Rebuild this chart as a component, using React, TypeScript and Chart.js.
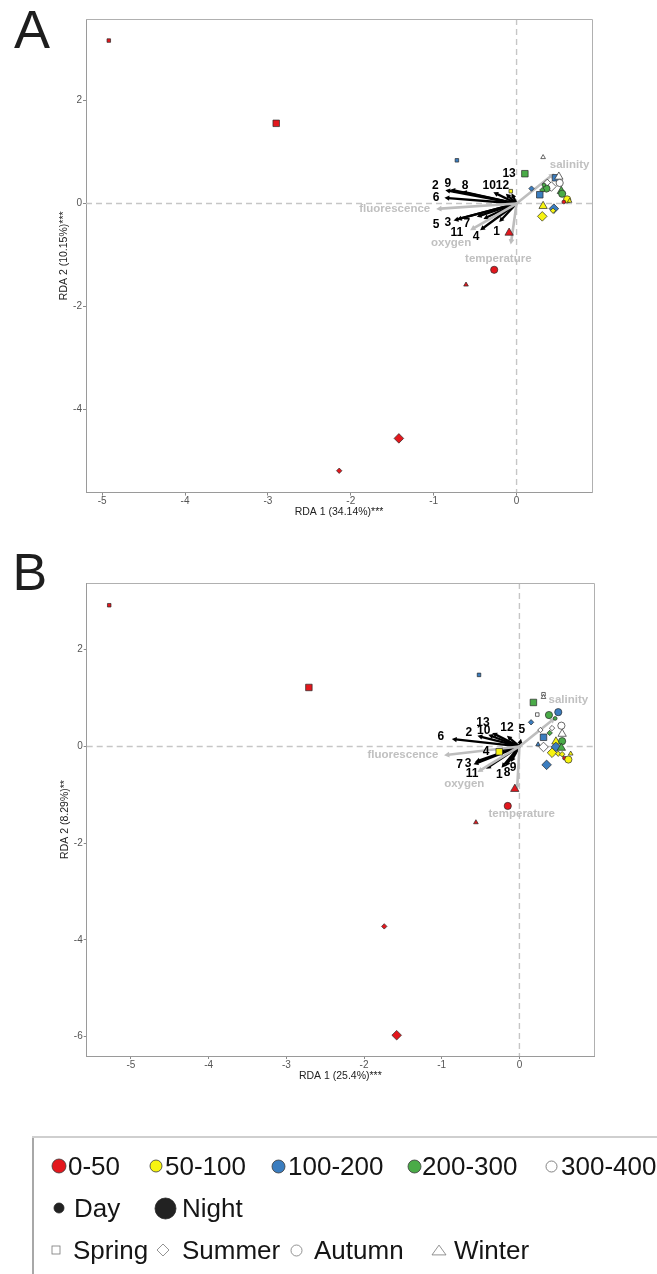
import React, { useEffect, useRef } from "react";
import { Chart, registerables } from "chart.js";

Chart.register(...registerables);

const FONT = "'Liberation Sans', Arial, Helvetica, sans-serif";

// ---------- shared categories ----------
const depthLabels = ["0-50", "50-100", "100-200", "200-300", "300-400"];
const depthColors = ["#e3171d", "#f7f411", "#3b7dbf", "#4aab48", "#ffffff"];
const timeLabels = ["Day", "Night"];
const seasonLabels = ["Spring", "Summer", "Autumn", "Winter"];
const seasonStyles = ["rect", "rectRot", "circle", "triangle"];
const speciesLabels = ["1", "2", "3", "4", "5", "6", "7", "8", "9", "10", "11", "12", "13"];
const envLabels = ["salinity", "fluorescence", "oxygen", "temperature"];
const xTickValues = [-5, -4, -3, -2, -1, 0];
const yTickValuesA = [-4, -2, 0, 2];
const yTickValuesB = [-6, -4, -2, 0, 2];

// ---------- panel A ----------
const aSampleX = [-4.92, -2.9, -0.72, 0.32, 0.1, -0.07, 0.18, 0.47, 0.51, 0.52, 0.37, 0.42, 0.36, 0.33, 0.31, 0.28, 0.54, 0.55, 0.61, 0.64, 0.57, 0.32, 0.31, 0.45, 0.44, -0.09, -0.27, -0.61, -1.42, -2.14];
const aSampleY = [3.17, 1.56, 0.84, 0.9, 0.58, 0.24, 0.29, 0.5, 0.52, 0.4, 0.38, 0.33, 0.29, 0.36, 0.26, 0.17, 0.24, 0.19, 0.08, 0.05, 0.03, -0.05, -0.25, -0.1, -0.14, -0.57, -1.29, -1.58, -4.57, -5.2];
const aSampleDepth = [0, 0, 2, 4, 3, 1, 2, 2, 4, 4, 4, 4, 3, 3, 3, 2, 3, 3, 1, 1, 0, 1, 1, 2, 1, 0, 0, 0, 0, 0];
const aSampleNight = [0, 1, 0, 0, 1, 0, 0, 1, 1, 1, 1, 1, 1, 0, 0, 1, 1, 1, 1, 0, 0, 1, 1, 1, 0, 1, 1, 0, 1, 0];
const aSampleSeason = [0, 0, 0, 3, 0, 0, 1, 0, 3, 2, 1, 1, 2, 2, 1, 0, 3, 2, 2, 3, 2, 3, 1, 1, 1, 3, 2, 3, 1, 1];

const aSpeciesX = [-0.21, -0.86, -0.72, -0.44, -0.76, -0.87, -0.48, -0.66, -0.8, -0.28, -0.4, -0.13, -0.06];
const aSpeciesY = [-0.36, 0.26, -0.31, -0.52, -0.33, 0.11, -0.26, 0.23, 0.27, 0.22, -0.3, 0.19, 0.2];
const aSpeciesLabelX = [-0.24, -0.98, -0.83, -0.49, -0.97, -0.97, -0.6, -0.62, -0.83, -0.33, -0.72, -0.17, -0.09];
const aSpeciesLabelY = [-0.54, 0.34, -0.37, -0.64, -0.42, 0.12, -0.4, 0.35, 0.39, 0.35, -0.57, 0.35, 0.58];

const aEnvX = [0.455, -0.97, -0.56, -0.07];
const aEnvY = [0.585, -0.105, -0.52, -0.8];
const aEnvLabelX = [0.64, -1.47, -0.79, -0.22];
const aEnvLabelY = [0.75, -0.105, -0.77, -1.08];

// ---------- panel B ----------
const bSampleX = [-5.28, -2.71, -0.52, 0.18, 0.31, 0.31, 0.23, 0.38, 0.5, 0.15, 0.46, 0.54, 0.27, 0.42, 0.55, 0.39, 0.31, 0.24, 0.31, 0.47, 0.55, 0.47, 0.54, 0.42, 0.5, 0.55, 0.58, 0.63, 0.66, 0.35, -0.26, -0.06, -0.15, -0.56, -1.74, -1.58];
const bSampleY = [2.92, 1.22, 1.48, 0.91, 1.08, 1.02, 0.66, 0.65, 0.71, 0.5, 0.58, 0.43, 0.34, 0.38, 0.26, 0.28, 0.19, 0.04, -0.01, 0.1, 0.11, -0.01, -0.03, -0.13, -0.15, -0.16, -0.24, -0.27, -0.15, -0.38, -0.11, -0.88, -1.23, -1.57, -3.72, -5.97];
const bSampleDepth = [0, 0, 2, 3, 4, 4, 4, 3, 2, 2, 3, 4, 4, 4, 4, 3, 2, 2, 4, 1, 3, 2, 3, 1, 1, 1, 0, 1, 1, 2, 1, 0, 0, 0, 0, 0];
const bSampleNight = [0, 1, 0, 1, 0, 0, 0, 1, 1, 0, 0, 1, 0, 0, 1, 0, 1, 0, 1, 1, 1, 1, 1, 1, 0, 0, 0, 1, 0, 1, 1, 1, 1, 0, 0, 1];
const bSampleSeason = [0, 0, 0, 0, 0, 3, 0, 2, 2, 1, 2, 2, 1, 1, 3, 1, 0, 3, 1, 3, 2, 1, 3, 1, 1, 1, 2, 2, 3, 1, 0, 3, 2, 3, 1, 1];

const bSpeciesX = [-0.23, -0.54, -0.57, -0.27, 0.02, -0.87, -0.59, -0.18, -0.11, -0.4, -0.43, -0.16, -0.35];
const bSpeciesY = [-0.44, 0.22, -0.32, -0.09, 0.16, 0.155, -0.37, -0.41, -0.32, 0.24, -0.46, 0.22, 0.28];
const bSpeciesLabelX = [-0.26, -0.65, -0.66, -0.43, 0.03, -1.01, -0.77, -0.16, -0.08, -0.46, -0.61, -0.16, -0.47];
const bSpeciesLabelY = [-0.58, 0.28, -0.35, -0.11, 0.34, 0.21, -0.38, -0.55, -0.44, 0.32, -0.57, 0.39, 0.5];

const bEnvX = [0.46, -0.97, -0.54, -0.03];
const bEnvY = [0.59, -0.18, -0.53, -0.89];
const bEnvLabelX = [0.63, -1.5, -0.71, 0.03];
const bEnvLabelY = [0.97, -0.18, -0.77, -1.39];

// ---------- helpers ----------
type Panel = {
  sx: number[]; sy: number[]; depth: number[]; night: number[]; season: number[];
  spX: number[]; spY: number[]; spLX: number[]; spLY: number[];
  envX: number[]; envY: number[]; envLX: number[]; envLY: number[];
  xMin: number; xMax: number; yMin: number; yMax: number; yTicks: number[];
  xTitle: string; yTitle: string;
  lay: { top: number; right: number; left: number; yW: number; xH: number; yTitlePad: number; xTitlePad: number };
};

const radiusByTime = [
  [2.5, 2.7, 1.9, 2.7],
  [4.6, 4.8, 3.6, 4.8],
];

function drawArrow(ctx: CanvasRenderingContext2D, x1: number, y1: number, x2: number, y2: number, color: string, width: number, head: number) {
  const ang = Math.atan2(y2 - y1, x2 - x1);
  const lx = x2 - Math.cos(ang) * head * 0.7;
  const ly = y2 - Math.sin(ang) * head * 0.7;
  ctx.strokeStyle = color;
  ctx.lineWidth = width;
  ctx.lineCap = "butt";
  ctx.beginPath();
  ctx.moveTo(x1, y1);
  ctx.lineTo(lx, ly);
  ctx.stroke();
  ctx.fillStyle = color;
  ctx.beginPath();
  ctx.moveTo(x2, y2);
  ctx.lineTo(x2 - head * Math.cos(ang - 0.5), y2 - head * Math.sin(ang - 0.5));
  ctx.lineTo(x2 - head * Math.cos(ang + 0.5), y2 - head * Math.sin(ang + 0.5));
  ctx.closePath();
  ctx.fill();
}

const biplotPlugin = {
  id: "biplot",
  beforeDatasetsDraw(chart: any) {
    const p: Panel = chart.options.plugins.biplot.panel;
    const { ctx, chartArea: a, scales } = chart;
    const px = (v: number) => scales.x.getPixelForValue(v);
    const py = (v: number) => scales.y.getPixelForValue(v);
    ctx.save();
    ctx.beginPath();
    ctx.rect(a.left, a.top, a.right - a.left, a.bottom - a.top);
    ctx.clip();
    ctx.strokeStyle = "#c6c6c6";
    ctx.lineWidth = 1.4;
    ctx.setLineDash([6, 4]);
    ctx.beginPath();
    ctx.moveTo(px(0), a.top);
    ctx.lineTo(px(0), a.bottom);
    ctx.moveTo(a.left, py(0));
    ctx.lineTo(a.right, py(0));
    ctx.stroke();
    ctx.setLineDash([]);
    const ox = px(0), oy = py(0);
    p.spX.forEach((v, i) => drawArrow(ctx, ox, oy, px(v), py(p.spY[i]), "#000000", 2.3, 5.5));
    p.envX.forEach((v, i) => drawArrow(ctx, ox, oy, px(v), py(p.envY[i]), "#bdbdbd", 2.6, 6));
    ctx.restore();
  },
  afterDatasetsDraw(chart: any) {
    const p: Panel = chart.options.plugins.biplot.panel;
    const { ctx, chartArea: a, scales } = chart;
    const px = (v: number) => scales.x.getPixelForValue(v);
    const py = (v: number) => scales.y.getPixelForValue(v);
    ctx.save();
    ctx.textAlign = "center";
    ctx.textBaseline = "middle";
    ctx.font = `bold 12px ${FONT}`;
    ctx.fillStyle = "#000000";
    speciesLabels.forEach((t, i) => ctx.fillText(t, px(p.spLX[i]), py(p.spLY[i])));
    ctx.font = `bold 11.5px ${FONT}`;
    ctx.fillStyle = "#c0c0c0";
    envLabels.forEach((t, i) => ctx.fillText(t, px(p.envLX[i]), py(p.envLY[i])));
    // top and right panel border
    ctx.strokeStyle = "#b0b0b0";
    ctx.lineWidth = 1;
    ctx.beginPath();
    ctx.moveTo(Math.round(a.left), Math.round(a.top) + 0.5);
    ctx.lineTo(Math.round(a.right) + 0.5, Math.round(a.top) + 0.5);
    ctx.lineTo(Math.round(a.right) + 0.5, Math.round(a.bottom));
    ctx.stroke();
    ctx.restore();
  },
};

function buildConfig(p: Panel, xTicks: number[]): any {
  return {
    type: "scatter",
    data: {
      datasets: [
        {
          data: p.sx.map((v, i) => ({ x: v, y: p.sy[i] })),
          pointStyle: p.season.map((s) => seasonStyles[s]),
          pointRadius: p.sx.map((_, i) => radiusByTime[p.night[i]][p.season[i]]),
          pointHoverRadius: p.sx.map((_, i) => radiusByTime[p.night[i]][p.season[i]]),
          backgroundColor: p.depth.map((d) => depthColors[d]),
          borderColor: "#2a2a2a",
          borderWidth: 0.7,
        },
      ],
    },
    options: {
      animation: false,
      responsive: false,
      events: [],
      layout: { padding: { top: p.lay.top, right: p.lay.right, left: p.lay.left, bottom: 0 } },
      plugins: {
        legend: { display: false },
        tooltip: { enabled: false },
        biplot: { panel: p },
      },
      scales: {
        x: {
          type: "linear",
          min: p.xMin,
          max: p.xMax,
          afterBuildTicks: (s: any) => { s.ticks = xTicks.map((v) => ({ value: v })); },
          afterFit: (s: any) => { s.height = p.lay.xH; },
          grid: { drawOnChartArea: false, drawTicks: true, tickLength: 3, color: "#8a8a8a", tickColor: "#8a8a8a" },
          border: { display: true, color: "#9a9a9a", width: 1 },
          ticks: { font: { family: FONT, size: 10 }, color: "#555555", padding: 0, maxRotation: 0, autoSkip: false, callback: (v: any) => String(v) },
          title: { display: true, text: p.xTitle, font: { family: FONT, size: 10.5 }, color: "#222222", padding: { top: 0, bottom: p.lay.xTitlePad } },
        },
        y: {
          type: "linear",
          min: p.yMin,
          max: p.yMax,
          afterBuildTicks: (s: any) => { s.ticks = p.yTicks.map((v) => ({ value: v })); },
          afterFit: (s: any) => { s.width = p.lay.yW; },
          grid: { drawOnChartArea: false, drawTicks: true, tickLength: 3, color: "#8a8a8a", tickColor: "#8a8a8a" },
          border: { display: true, color: "#9a9a9a", width: 1 },
          ticks: { font: { family: FONT, size: 10 }, color: "#555555", padding: 1, autoSkip: false, callback: (v: any) => String(v) },
          title: { display: true, text: p.yTitle, font: { family: FONT, size: 10.5 }, color: "#222222", padding: { top: p.lay.yTitlePad, bottom: 0 } },
        },
      },
    },
    plugins: [biplotPlugin],
  };
}

const panelA: Panel = {
  sx: aSampleX, sy: aSampleY, depth: aSampleDepth, night: aSampleNight, season: aSampleSeason,
  spX: aSpeciesX, spY: aSpeciesY, spLX: aSpeciesLabelX, spLY: aSpeciesLabelY,
  envX: aEnvX, envY: aEnvY, envLX: aEnvLabelX, envLY: aEnvLabelY,
  xMin: -5.195, xMax: 0.91, yMin: -5.625, yMax: 3.59, yTicks: yTickValuesA,
  xTitle: "RDA 1 (34.14%)***", yTitle: "RDA 2 (10.15%)***",
  lay: { top: 19, right: 65, left: 50, yW: 36, xH: 37.4, yTitlePad: 7.7, xTitlePad: 11.5 },
};

const panelB: Panel = {
  sx: bSampleX, sy: bSampleY, depth: bSampleDepth, night: bSampleNight, season: bSampleSeason,
  spX: bSpeciesX, spY: bSpeciesY, spLX: bSpeciesLabelX, spLY: bSpeciesLabelY,
  envX: bEnvX, envY: bEnvY, envLX: bEnvLabelX, envLY: bEnvLabelY,
  xMin: -5.57, xMax: 0.96, yMin: -6.4, yMax: 3.38, yTicks: yTickValuesB,
  xTitle: "RDA 1 (25.4%)***", yTitle: "RDA 2 (8.29%)**",
  lay: { top: 43, right: 63, left: 50, yW: 36.7, xH: 44, yTitlePad: 8.7, xTitlePad: 18 },
};

function RdaPanel({ panel, top, height }: { panel: Panel; top: number; height: number }) {
  const ref = useRef<HTMLCanvasElement>(null);
  useEffect(() => {
    const chart = new Chart(ref.current as HTMLCanvasElement, buildConfig(panel, xTickValues));
    return () => chart.destroy();
  }, [panel]);
  return (
    <canvas
      ref={ref}
      width={657}
      height={height}
      style={{ position: "absolute", left: 0, top, width: 657, height }}
    />
  );
}

function Shape({ kind, size, fill, stroke }: { kind: string; size: number; fill: string; stroke: string }) {
  const s = size;
  const w = s + 2;
  let el: any = null;
  if (kind === "circle") el = <circle cx={w / 2} cy={w / 2} r={s / 2} fill={fill} stroke={stroke} strokeWidth={0.8} />;
  if (kind === "rect") el = <rect x={1} y={1} width={s} height={s} fill={fill} stroke={stroke} strokeWidth={0.8} />;
  if (kind === "rectRot")
    el = <polygon points={`${w / 2},1 ${w - 1},${w / 2} ${w / 2},${w - 1} 1,${w / 2}`} fill={fill} stroke={stroke} strokeWidth={0.8} />;
  if (kind === "triangle")
    el = <polygon points={`${w / 2},${1 + s * 0.15} ${w - 1},${w - 1 - s * 0.15} 1,${w - 1 - s * 0.15}`} fill={fill} stroke={stroke} strokeWidth={0.8} />;
  return (
    <svg width={w} height={w} style={{ display: "block" }}>
      {el}
    </svg>
  );
}

function LegendItem({ cx, cy, kind, size, fill, stroke, text, tx }: any) {
  const w = size + 2;
  return (
    <>
      <div style={{ position: "absolute", left: cx - w / 2, top: cy - w / 2, width: w, height: w }}>
        <Shape kind={kind} size={size} fill={fill} stroke={stroke} />
      </div>
      <div
        style={{
          position: "absolute",
          left: tx,
          top: cy - 13,
          height: 26,
          lineHeight: "26px",
          fontFamily: FONT,
          fontSize: 26,
          color: "#151515",
          whiteSpace: "nowrap",
        }}
      >
        {text}
      </div>
    </>
  );
}

const depthLegendCx = [59, 156, 278, 414, 551];
const depthLegendTx = [68, 165, 288, 422, 561];
const depthLegendSize = [14, 12, 13, 13, 11];
const timeLegendCx = [59, 165];
const timeLegendTx = [74, 182];
const timeLegendSize = [10, 21];
const seasonLegendCx = [56, 163, 296, 439];
const seasonLegendTx = [73, 182, 314, 454];
const seasonLegendSize = [8, 12, 11, 14];

function Legend() {
  return (
    <div style={{ position: "absolute", left: 0, top: 0, width: 657, height: 1274, pointerEvents: "none" }}>
      <div style={{ position: "absolute", left: 32, top: 1136, width: 2, height: 138, background: "#a8a8a8" }} />
      <div style={{ position: "absolute", left: 32, top: 1136, width: 625, height: 1.5, background: "#cfcfcf" }} />
      {depthLabels.map((t, i) => (
        <LegendItem key={t} cx={depthLegendCx[i]} cy={1166} kind="circle" size={depthLegendSize[i]} fill={depthColors[i]} stroke={i === 4 ? "#666" : "#3a3a3a"} text={t} tx={depthLegendTx[i]} />
      ))}
      {timeLabels.map((t, i) => (
        <LegendItem key={t} cx={timeLegendCx[i]} cy={1208} kind="circle" size={timeLegendSize[i]} fill="#222222" stroke="#222222" text={t} tx={timeLegendTx[i]} />
      ))}
      {seasonLabels.map((t, i) => (
        <LegendItem key={t} cx={seasonLegendCx[i]} cy={1250} kind={seasonStyles[i]} size={seasonLegendSize[i]} fill="#ffffff" stroke="#777777" text={t} tx={seasonLegendTx[i]} />
      ))}
    </div>
  );
}

export default function App() {
  return (
    <div style={{ position: "absolute", left: 0, top: 0, width: 657, height: 1274, background: "#ffffff", overflow: "hidden" }}>
      <div style={{ position: "absolute", left: 14, top: 1.5, fontFamily: FONT, fontSize: 54, lineHeight: "54px", color: "#1e1e1e" }}>A</div>
      <div style={{ position: "absolute", left: 12.5, top: 545.7, fontFamily: FONT, fontSize: 52, lineHeight: "52px", color: "#1e1e1e" }}>B</div>
      <RdaPanel panel={panelA} top={0} height={530} />
      <RdaPanel panel={panelB} top={540} height={560} />
      <Legend />
    </div>
  );
}
